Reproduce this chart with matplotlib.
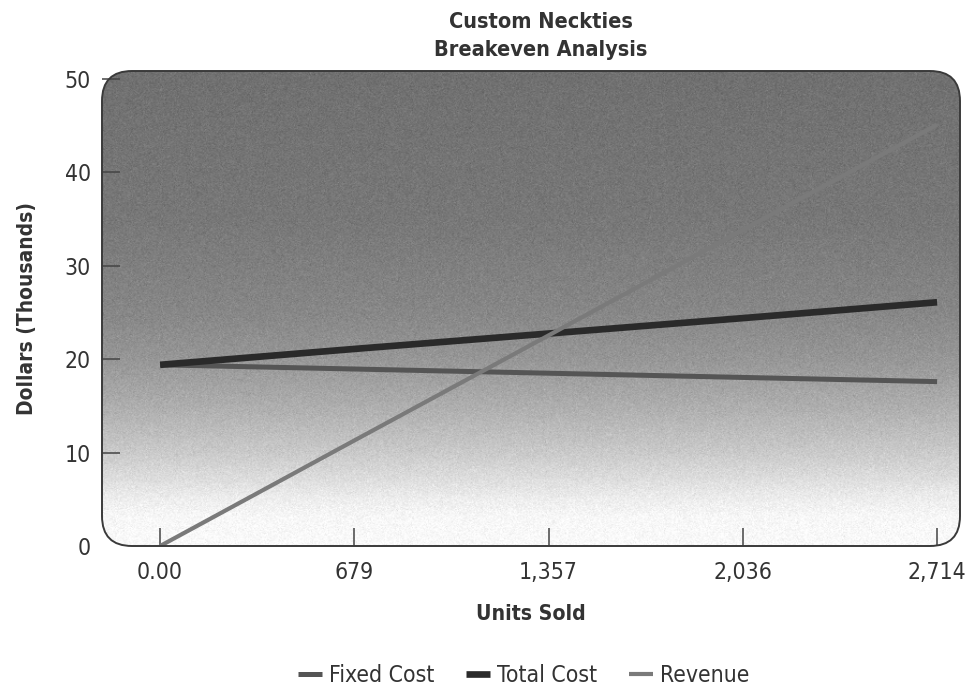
import numpy as np
import matplotlib
matplotlib.use("Agg")
import matplotlib.pyplot as plt
from matplotlib import font_manager
from matplotlib.font_manager import FontProperties
from matplotlib.patches import FancyBboxPatch

# --- data (dollars in thousands) ---
units = [0, 678.5, 1357, 2035.5, 2714]
tick_labels = ["0.00", "679", "1,357", "2,036", "2,714"]
fixed_cost = [19.4, 18.95, 18.5, 18.05, 17.6]
total_cost = [19.4, 21.1, 22.75, 24.4, 26.1]
revenue = [0.0, 11.3, 22.55, 33.85, 45.1]
series_names = ["Fixed Cost", "Total Cost", "Revenue"]

# prefer a narrow sans face when one is installed
narrow = [f for f in font_manager.fontManager.ttflist
          if f.stretch in ("condensed", "semi-condensed", "extra-condensed")
          or "Narrow" in f.name or "Condensed" in f.name]
names = sorted({f.name for f in narrow})
fams = [n for n in ("Liberation Sans Narrow", "DejaVu Sans") if n in names]
if fams:
    cond = dict(family=[fams[0], "DejaVu Sans"], stretch="condensed")
else:
    cond = dict(family=["Roboto", "DejaVu Sans"])
plt.rcParams["font.family"] = cond["family"]
if "stretch" in cond:
    plt.rcParams["font.stretch"] = cond["stretch"]

W, H = 975, 687
fig = plt.figure(figsize=(W / 100, H / 100), dpi=100)
left, right, bottom, top = 102 / W, 960 / W, (H - 546) / H, (H - 71) / H
ax = fig.add_axes([left, bottom, right - left, top - bottom])

xmin, xmax = -203, 2794
ymin, ymax = 0, 50.86
ax.set_xlim(xmin, xmax)
ax.set_ylim(ymin, ymax)

# vertical gray gradient background, dark at the top fading to white near zero
stops_y = [0, 3, 5, 7, 10, 15, 20, 25, 35, 51]
stops_g = [0.98, 0.97, 0.93, 0.87, 0.79, 0.68, 0.59, 0.53, 0.47, 0.44]
yy = np.linspace(ymin, ymax, 500)
gray = np.interp(yy, stops_y, stops_g)
rng = np.random.default_rng(7)
tex = gray[:, None] + rng.normal(0, 0.025, (500, 800))
tex = np.clip(tex, 0, 1)
im = ax.imshow(tex, cmap="gray", vmin=0, vmax=1, origin="lower",
               extent=[xmin, xmax, ymin, ymax], aspect="auto", zorder=0,
               interpolation="bilinear")

# rounded plot frame
wpx = (right - left) * W
hpx = (top - bottom) * H
r = 30 / wpx
frame = FancyBboxPatch((0, 0), 1, 1, boxstyle=f"round,pad=0,rounding_size={r}",
                       mutation_aspect=wpx / hpx, transform=ax.transAxes,
                       facecolor="none", edgecolor="#3a3a3a", lw=1.4, zorder=5,
                       clip_on=False)
ax.add_patch(frame)
im.set_clip_path(frame)

for s in ax.spines.values():
    s.set_visible(False)

l1, = ax.plot(units, fixed_cost, color="#555555", lw=3.6, solid_capstyle="butt", zorder=3)
l2, = ax.plot(units, total_cost, color="#2a2a2a", lw=4.8, solid_capstyle="butt", zorder=3)
l3, = ax.plot(units, revenue, color="#7a7a7a", lw=3.0, solid_capstyle="butt", zorder=4)

ax.set_xticks(units)
ax.set_xticklabels(tick_labels)
ax.set_yticks([0, 10, 20, 30, 40, 50])
ax.tick_params(direction="in", length=13, width=1.1, color="#444444",
               labelsize=16.5, labelcolor="#333333")
ax.tick_params(axis="x", pad=11)
ax.tick_params(axis="y", pad=8)
ax.yaxis.get_major_ticks()[0].tick1line.set_visible(False)

ax.set_xlabel("Units Sold", fontsize=15.2, fontweight="bold", color="#333333",
              labelpad=14)
ax.set_ylabel("Dollars (Thousands)", fontsize=15, fontweight="bold", color="#333333",
              labelpad=20)

fig.text(0.555, 1 - 22 / H, "Custom Neckties", ha="center", va="center",
         fontsize=15.6, fontweight="bold", color="#333333")
fig.text(0.555, 1 - 50 / H, "Breakeven Analysis", ha="center", va="center",
         fontsize=15.6, fontweight="bold", color="#333333")

leg_font = FontProperties(size=16.5, **cond)
fig.legend([l1, l2, l3], series_names, loc="center", bbox_to_anchor=(0.537, 1 - 676 / H),
           ncol=3, frameon=False, prop=leg_font, handlelength=1.05, handletextpad=0.3,
           columnspacing=1.4, labelcolor="#333333")

fig.savefig("out.png", dpi=100, facecolor="white")
